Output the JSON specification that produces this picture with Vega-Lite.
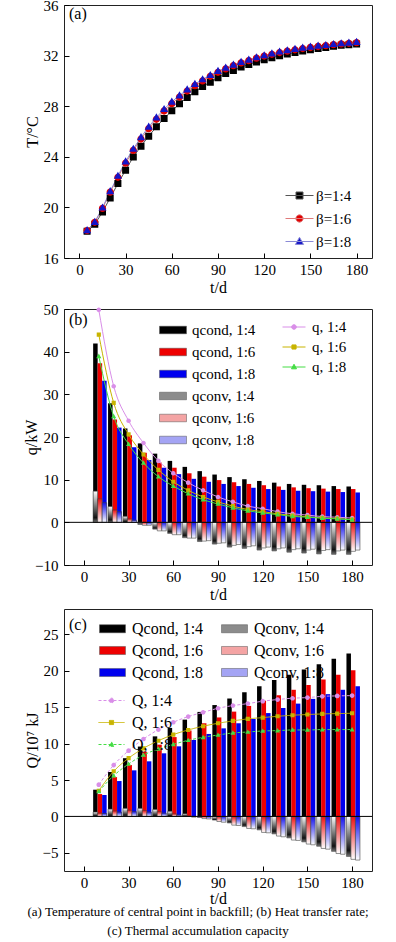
{
  "$schema": "https://vega.github.io/schema/vega-lite/v6.json",
  "background": "white",
  "padding": {"left": 23, "top": -3, "right": 0, "bottom": 0},
  "spacing": 5,
  "resolve": {
    "scale": {"color": "independent", "fill": "independent", "stroke": "independent", "shape": "independent", "strokeDash": "independent"}
  },
  "title": {
    "text": ["(a) Temperature of central point in backfill; (b) Heat transfer rate;", "(c) Thermal accumulation capacity"],
    "orient": "bottom", "anchor": "middle", "frame": "bounds", "offset": -1,
    "font": "Liberation Serif", "fontSize": 13, "fontWeight": "normal", "color": "black", "lineHeight": 19
  },
  "config": {
    "font": "Liberation Serif",
    "view": {"stroke": "#222222", "strokeWidth": 1},
    "axis": {
      "labelFont": "Liberation Serif", "labelFontSize": 15, "labelColor": "black",
      "titleFont": "Liberation Serif", "titleFontSize": 16, "titleFontWeight": "normal", "titleColor": "black",
      "tickSize": -5, "tickColor": "black", "tickWidth": 1, "domain": false, "grid": false
    },
    "axisX": {"labelPadding": 9, "titlePadding": 2},
    "axisY": {"labelPadding": 11},
    "legend": {"labelFont": "Liberation Serif", "labelColor": "black", "padding": 0, "titlePadding": 0, "symbolStrokeWidth": 1}
  },
  "datasets": {
    "T": [
      {"t":5,"r":"1:4","T":18.11},{"t":10,"r":"1:4","T":18.66},{"t":15,"r":"1:4","T":19.64},{"t":20,"r":"1:4","T":20.75},{"t":25,"r":"1:4","T":21.88},{"t":30,"r":"1:4","T":22.94},{"t":35,"r":"1:4","T":23.99},{"t":40,"r":"1:4","T":24.84},{"t":45,"r":"1:4","T":25.63},{"t":50,"r":"1:4","T":26.37},{"t":55,"r":"1:4","T":27.03},{"t":60,"r":"1:4","T":27.64},{"t":65,"r":"1:4","T":28.19},{"t":70,"r":"1:4","T":28.69},{"t":75,"r":"1:4","T":29.14},{"t":80,"r":"1:4","T":29.56},{"t":85,"r":"1:4","T":29.9},{"t":90,"r":"1:4","T":30.25},{"t":95,"r":"1:4","T":30.59},{"t":100,"r":"1:4","T":30.83},{"t":105,"r":"1:4","T":31.09},{"t":110,"r":"1:4","T":31.3},{"t":115,"r":"1:4","T":31.49},{"t":120,"r":"1:4","T":31.67},{"t":125,"r":"1:4","T":31.83},{"t":130,"r":"1:4","T":31.99},{"t":135,"r":"1:4","T":32.12},{"t":140,"r":"1:4","T":32.25},{"t":145,"r":"1:4","T":32.36},{"t":150,"r":"1:4","T":32.46},{"t":155,"r":"1:4","T":32.57},{"t":160,"r":"1:4","T":32.65},{"t":165,"r":"1:4","T":32.73},{"t":170,"r":"1:4","T":32.81},{"t":175,"r":"1:4","T":32.86},{"t":180,"r":"1:4","T":32.91},
      {"t":5,"r":"1:6","T":18.17},{"t":10,"r":"1:6","T":18.82},{"t":15,"r":"1:6","T":19.92},{"t":20,"r":"1:6","T":21.2},{"t":25,"r":"1:6","T":22.38},{"t":30,"r":"1:6","T":23.5},{"t":35,"r":"1:6","T":24.5},{"t":40,"r":"1:6","T":25.4},{"t":45,"r":"1:6","T":26.22},{"t":50,"r":"1:6","T":26.96},{"t":55,"r":"1:6","T":27.62},{"t":60,"r":"1:6","T":28.2},{"t":65,"r":"1:6","T":28.72},{"t":70,"r":"1:6","T":29.2},{"t":75,"r":"1:6","T":29.62},{"t":80,"r":"1:6","T":30.0},{"t":85,"r":"1:6","T":30.36},{"t":90,"r":"1:6","T":30.68},{"t":95,"r":"1:6","T":30.95},{"t":100,"r":"1:6","T":31.2},{"t":105,"r":"1:6","T":31.42},{"t":110,"r":"1:6","T":31.6},{"t":115,"r":"1:6","T":31.8},{"t":120,"r":"1:6","T":31.96},{"t":125,"r":"1:6","T":32.1},{"t":130,"r":"1:6","T":32.24},{"t":135,"r":"1:6","T":32.35},{"t":140,"r":"1:6","T":32.46},{"t":145,"r":"1:6","T":32.56},{"t":150,"r":"1:6","T":32.64},{"t":155,"r":"1:6","T":32.72},{"t":160,"r":"1:6","T":32.78},{"t":165,"r":"1:6","T":32.86},{"t":170,"r":"1:6","T":32.92},{"t":175,"r":"1:6","T":32.97},{"t":180,"r":"1:6","T":33.02},
      {"t":5,"r":"1:8","T":18.19},{"t":10,"r":"1:8","T":18.85},{"t":15,"r":"1:8","T":19.98},{"t":20,"r":"1:8","T":21.28},{"t":25,"r":"1:8","T":22.49},{"t":30,"r":"1:8","T":23.63},{"t":35,"r":"1:8","T":24.63},{"t":40,"r":"1:8","T":25.55},{"t":45,"r":"1:8","T":26.37},{"t":50,"r":"1:8","T":27.11},{"t":55,"r":"1:8","T":27.77},{"t":60,"r":"1:8","T":28.35},{"t":65,"r":"1:8","T":28.85},{"t":70,"r":"1:8","T":29.32},{"t":75,"r":"1:8","T":29.75},{"t":80,"r":"1:8","T":30.12},{"t":85,"r":"1:8","T":30.46},{"t":90,"r":"1:8","T":30.78},{"t":95,"r":"1:8","T":31.04},{"t":100,"r":"1:8","T":31.28},{"t":105,"r":"1:8","T":31.49},{"t":110,"r":"1:8","T":31.67},{"t":115,"r":"1:8","T":31.86},{"t":120,"r":"1:8","T":32.02},{"t":125,"r":"1:8","T":32.17},{"t":130,"r":"1:8","T":32.31},{"t":135,"r":"1:8","T":32.41},{"t":140,"r":"1:8","T":32.52},{"t":145,"r":"1:8","T":32.62},{"t":150,"r":"1:8","T":32.7},{"t":155,"r":"1:8","T":32.78},{"t":160,"r":"1:8","T":32.83},{"t":165,"r":"1:8","T":32.91},{"t":170,"r":"1:8","T":32.97},{"t":175,"r":"1:8","T":33.02},{"t":180,"r":"1:8","T":33.07}
    ],
    "B": [
      {"t":10,"r":"1:4","qcond":41.9,"qconv":7.3,"q":49.8},{"t":20,"r":"1:4","qcond":27.9,"qconv":3.7,"q":31.9},{"t":30,"r":"1:4","qcond":22.0,"qconv":1.4,"q":23.8},{"t":40,"r":"1:4","qcond":18.5,"qconv":-0.5,"q":18.6},{"t":50,"r":"1:4","qcond":16.1,"qconv":-1.6,"q":14.4},{"t":60,"r":"1:4","qcond":14.4,"qconv":-2.6,"q":11.5},{"t":70,"r":"1:4","qcond":13.0,"qconv":-3.6,"q":9.3},{"t":80,"r":"1:4","qcond":12.0,"qconv":-4.5,"q":7.5},{"t":90,"r":"1:4","qcond":11.2,"qconv":-5.1,"q":5.95},{"t":100,"r":"1:4","qcond":10.6,"qconv":-5.8,"q":4.8},{"t":110,"r":"1:4","qcond":10.1,"qconv":-6.1,"q":3.8},{"t":120,"r":"1:4","qcond":9.7,"qconv":-6.5,"q":3.2},{"t":130,"r":"1:4","qcond":9.3,"qconv":-6.7,"q":2.5},{"t":140,"r":"1:4","qcond":9.0,"qconv":-7.0,"q":2.0},{"t":150,"r":"1:4","qcond":8.8,"qconv":-7.2,"q":1.7},{"t":160,"r":"1:4","qcond":8.7,"qconv":-7.4,"q":1.35},{"t":170,"r":"1:4","qcond":8.5,"qconv":-7.5,"q":1.2},{"t":180,"r":"1:4","qcond":8.4,"qconv":-7.5,"q":1.0},
      {"t":10,"r":"1:6","qcond":37.3,"qconv":5.5,"q":44.0},{"t":20,"r":"1:6","qcond":24.1,"qconv":2.9,"q":28.0},{"t":30,"r":"1:6","qcond":20.4,"qconv":0.8,"q":20.6},{"t":40,"r":"1:6","qcond":16.3,"qconv":-0.7,"q":15.9},{"t":50,"r":"1:6","qcond":14.0,"qconv":-2.0,"q":12.3},{"t":60,"r":"1:6","qcond":12.8,"qconv":-2.9,"q":9.5},{"t":70,"r":"1:6","qcond":11.5,"qconv":-3.7,"q":7.5},{"t":80,"r":"1:6","qcond":10.7,"qconv":-4.4,"q":5.95},{"t":90,"r":"1:6","qcond":9.9,"qconv":-4.9,"q":4.8},{"t":100,"r":"1:6","qcond":9.4,"qconv":-5.4,"q":3.8},{"t":110,"r":"1:6","qcond":9.0,"qconv":-5.7,"q":3.0},{"t":120,"r":"1:6","qcond":8.7,"qconv":-6.0,"q":2.5},{"t":130,"r":"1:6","qcond":8.4,"qconv":-6.2,"q":2.0},{"t":140,"r":"1:6","qcond":8.2,"qconv":-6.4,"q":1.6},{"t":150,"r":"1:6","qcond":8.0,"qconv":-6.5,"q":1.3},{"t":160,"r":"1:6","qcond":7.9,"qconv":-6.6,"q":1.05},{"t":170,"r":"1:6","qcond":7.8,"qconv":-6.7,"q":0.9},{"t":180,"r":"1:6","qcond":7.8,"qconv":-6.8,"q":0.65},
      {"t":10,"r":"1:8","qcond":33.2,"qconv":4.6,"q":38.9},{"t":20,"r":"1:8","qcond":22.2,"qconv":2.5,"q":24.8},{"t":30,"r":"1:8","qcond":17.6,"qconv":0.5,"q":18.3},{"t":40,"r":"1:8","qcond":14.6,"qconv":-0.7,"q":13.9},{"t":50,"r":"1:8","qcond":12.8,"qconv":-2.0,"q":10.7},{"t":60,"r":"1:8","qcond":11.3,"qconv":-2.9,"q":8.5},{"t":70,"r":"1:8","qcond":10.2,"qconv":-3.7,"q":6.7},{"t":80,"r":"1:8","qcond":9.5,"qconv":-4.3,"q":5.3},{"t":90,"r":"1:8","qcond":9.0,"qconv":-4.8,"q":4.3},{"t":100,"r":"1:8","qcond":8.5,"qconv":-5.2,"q":3.4},{"t":110,"r":"1:8","qcond":8.1,"qconv":-5.5,"q":2.7},{"t":120,"r":"1:8","qcond":7.8,"qconv":-5.8,"q":2.2},{"t":130,"r":"1:8","qcond":7.6,"qconv":-6.0,"q":1.8},{"t":140,"r":"1:8","qcond":7.4,"qconv":-6.2,"q":1.4},{"t":150,"r":"1:8","qcond":7.3,"qconv":-6.3,"q":1.2},{"t":160,"r":"1:8","qcond":7.2,"qconv":-6.4,"q":0.95},{"t":170,"r":"1:8","qcond":7.1,"qconv":-6.5,"q":0.8},{"t":180,"r":"1:8","qcond":7.0,"qconv":-6.5,"q":0.6}
    ],
    "C": [
      {"t":10,"r":"1:4","Qc":3.67,"Qv":0.6,"Q":4.36},{"t":20,"r":"1:4","Qc":6.1,"Qv":1.0,"Q":7.06},{"t":30,"r":"1:4","Qc":8.0,"Qv":1.1,"Q":9.04},{"t":40,"r":"1:4","Qc":9.6,"Qv":1.1,"Q":10.64},{"t":50,"r":"1:4","Qc":11.0,"Qv":0.95,"Q":11.93},{"t":60,"r":"1:4","Qc":12.16,"Qv":0.7,"Q":12.94},{"t":70,"r":"1:4","Qc":13.3,"Qv":0.35,"Q":13.72},{"t":80,"r":"1:4","Qc":14.36,"Qv":-0.15,"Q":14.3},{"t":90,"r":"1:4","Qc":15.3,"Qv":-0.5,"Q":14.86},{"t":100,"r":"1:4","Qc":16.2,"Qv":-0.9,"Q":15.23},{"t":110,"r":"1:4","Qc":17.06,"Qv":-1.4,"Q":15.5},{"t":120,"r":"1:4","Qc":17.9,"Qv":-1.85,"Q":15.83},{"t":130,"r":"1:4","Qc":18.75,"Qv":-2.4,"Q":16.06},{"t":140,"r":"1:4","Qc":19.45,"Qv":-2.95,"Q":16.24},{"t":150,"r":"1:4","Qc":20.2,"Qv":-3.5,"Q":16.33},{"t":160,"r":"1:4","Qc":20.9,"Qv":-4.1,"Q":16.5},{"t":170,"r":"1:4","Qc":21.65,"Qv":-4.8,"Q":16.56},{"t":180,"r":"1:4","Qc":22.4,"Qv":-5.5,"Q":16.6},
      {"t":10,"r":"1:6","Qc":3.07,"Qv":0.45,"Q":3.53},{"t":20,"r":"1:6","Qc":5.4,"Qv":0.75,"Q":6.2},{"t":30,"r":"1:6","Qc":7.06,"Qv":0.85,"Q":8.0},{"t":40,"r":"1:6","Qc":8.9,"Qv":0.8,"Q":9.36},{"t":50,"r":"1:6","Qc":9.86,"Qv":0.65,"Q":10.4},{"t":60,"r":"1:6","Qc":10.9,"Qv":0.35,"Q":11.24},{"t":70,"r":"1:6","Qc":11.8,"Qv":0.05,"Q":11.88},{"t":80,"r":"1:6","Qc":12.8,"Qv":-0.3,"Q":12.39},{"t":90,"r":"1:6","Qc":13.6,"Qv":-0.7,"Q":12.8},{"t":100,"r":"1:6","Qc":14.4,"Qv":-1.2,"Q":13.12},{"t":110,"r":"1:6","Qc":15.18,"Qv":-1.65,"Q":13.4},{"t":120,"r":"1:6","Qc":15.9,"Qv":-2.2,"Q":13.58},{"t":130,"r":"1:6","Qc":16.65,"Qv":-2.7,"Q":13.76},{"t":140,"r":"1:6","Qc":17.4,"Qv":-3.25,"Q":13.9},{"t":150,"r":"1:6","Qc":18.07,"Qv":-3.8,"Q":14.0},{"t":160,"r":"1:6","Qc":18.8,"Qv":-4.4,"Q":14.08},{"t":170,"r":"1:6","Qc":19.45,"Qv":-5.1,"Q":14.13},{"t":180,"r":"1:6","Qc":20.1,"Qv":-5.9,"Q":14.17},
      {"t":10,"r":"1:8","Qc":2.94,"Qv":0.4,"Q":3.44},{"t":20,"r":"1:8","Qc":4.86,"Qv":0.6,"Q":5.6},{"t":30,"r":"1:8","Qc":6.33,"Qv":0.65,"Q":7.2},{"t":40,"r":"1:8","Qc":7.57,"Qv":0.6,"Q":8.44},{"t":50,"r":"1:8","Qc":8.67,"Qv":0.45,"Q":9.27},{"t":60,"r":"1:8","Qc":9.63,"Qv":0.2,"Q":9.9},{"t":70,"r":"1:8","Qc":10.5,"Qv":-0.1,"Q":10.46},{"t":80,"r":"1:8","Qc":11.33,"Qv":-0.35,"Q":10.87},{"t":90,"r":"1:8","Qc":12.1,"Qv":-0.8,"Q":11.19},{"t":100,"r":"1:8","Qc":12.8,"Qv":-1.25,"Q":11.47},{"t":110,"r":"1:8","Qc":13.4,"Qv":-1.7,"Q":11.6},{"t":120,"r":"1:8","Qc":14.2,"Qv":-2.25,"Q":11.74},{"t":130,"r":"1:8","Qc":14.9,"Qv":-2.8,"Q":11.79},{"t":140,"r":"1:8","Qc":15.5,"Qv":-3.3,"Q":11.88},{"t":150,"r":"1:8","Qc":16.15,"Qv":-3.9,"Q":11.88},{"t":160,"r":"1:8","Qc":16.8,"Qv":-4.5,"Q":11.93},{"t":170,"r":"1:8","Qc":17.4,"Qv":-5.2,"Q":11.93},{"t":180,"r":"1:8","Qc":17.9,"Qv":-6.0,"Q":11.93}
    ]
  },
  "vconcat": [
    {
      "width": 308, "height": 253,
      "title": {"text": "(a)", "anchor": "start", "frame": "group", "orient": "top", "offset": -24, "dx": 5, "font": "Liberation Serif", "fontSize": 16, "fontWeight": "normal", "color": "black"},
      "data": {"name": "T"},
      "layer": [
        {
          "mark": {"type": "line", "strokeWidth": 1},
          "encoding": {
            "x": {"field": "t", "type": "quantitative", "scale": {"domain": [-10, 190], "nice": false, "zero": false}, "axis": {"values": [0,30,60,90,120,150,180], "title": "t/d"}},
            "y": {"field": "T", "type": "quantitative", "scale": {"domain": [16, 36], "nice": false, "zero": false}, "axis": {"values": [16,20,24,28,32,36], "title": "T/°C", "titlePadding": 3}},
            "stroke": {"field": "r", "type": "nominal", "scale": {"domain": ["1:4","1:6","1:8"], "range": ["#555555","#e07a7a","#8a8ad6"]},
              "legend": {"orient": "none", "legendX": 221, "legendY": 176, "title": null, "labelExpr": "'β=' + datum.label", "labelFontSize": 15, "symbolSize": 784, "labelOffset": 2, "rowPadding": 0, "symbolStrokeWidth": 1}}
          }
        },
        {
          "mark": {"type": "point", "filled": true, "opacity": 1, "size": 784},
          "encoding": {
            "x": {"field": "t", "type": "quantitative", "scale": {"domain": [-10, 190], "nice": false, "zero": false}},
            "y": {"field": "T", "type": "quantitative", "scale": {"domain": [16, 36], "nice": false, "zero": false}},
            "strokeOpacity": {"value": 0},
            "fill": {"field": "r", "type": "nominal", "scale": {"domain": ["1:4","1:6","1:8"], "range": ["#000000","#e00000","#1515c8"]},
              "legend": {"orient": "none", "legendX": 221, "legendY": 176, "title": null, "labelExpr": "'β=' + datum.label", "labelFontSize": 15, "symbolSize": 784, "labelOffset": 2, "rowPadding": 0, "symbolStrokeWidth": 1}},
            "stroke": {"field": "r", "type": "nominal", "scale": {"domain": ["1:4","1:6","1:8"], "range": ["#555555","#e07a7a","#8a8ad6"]},
              "legend": {"orient": "none", "legendX": 221, "legendY": 176, "title": null, "labelExpr": "'β=' + datum.label", "labelFontSize": 15, "symbolSize": 784, "labelOffset": 2, "rowPadding": 0, "symbolStrokeWidth": 1}},
            "shape": {"field": "r", "type": "nominal", "scale": {"domain": ["1:4","1:6","1:8"], "range": ["M-1,0H1M-0.25,-0.25H0.25V0.25H-0.25Z","M-1,0H1M0.26,0A0.26,0.26,0,1,1,-0.26,0A0.26,0.26,0,1,1,0.26,0Z","M-1,0H1M0,-0.3L0.29,0.21H-0.29Z"]},
              "legend": {"orient": "none", "legendX": 221, "legendY": 176, "title": null, "labelExpr": "'β=' + datum.label", "labelFontSize": 15, "symbolSize": 784, "labelOffset": 2, "rowPadding": 0, "symbolStrokeWidth": 1}}
          }
        }
      ]
    },
    {
      "width": 308, "height": 256,
      "title": {"text": "(b)", "anchor": "start", "frame": "group", "orient": "top", "offset": -26, "dx": 5, "font": "Liberation Serif", "fontSize": 16, "fontWeight": "normal", "color": "black"},
      "data": {"name": "B"},
      "layer": [
        {
          "transform": [{"filter": "datum.r === '1:4'"}],
          "mark": {"type": "bar", "width": 4.5, "xOffset": -3.4},
          "encoding": {
            "x": {"field": "t", "type": "quantitative", "scale": {"domain": [-10, 190], "nice": false, "zero": false}, "axis": {"values": [0,30,60,90,120,150,180], "title": "t/d"}},
            "y": {"field": "qcond", "type": "quantitative", "scale": {"domain": [-10, 50], "nice": false}, "axis": {"values": [-10,0,10,20,30,40,50], "title": "q/kW", "titlePadding": -5}},
            "color": {"datum": "qcond, 1:4", "type": "nominal",
              "scale": {"domain": ["qcond, 1:4","qcond, 1:6","qcond, 1:8","qconv, 1:4","qconv, 1:6","qconv, 1:8"],
                "range": ["#000000","#ee0000","#0000ee","#8c8c8c","#f4a4a4","#a4a4f4"]},
              "legend": {"orient": "none", "legendX": 95, "legendY": 7, "title": null, "labelFontSize": 15, "symbolSize": 729, "symbolType": "M-1,-0.28H1V0.28H-1Z", "labelOffset": 5, "rowPadding": 0, "symbolStrokeColor": "#555555", "symbolStrokeWidth": 0.5}
            }
          }
        },
        {
          "transform": [{"filter": "datum.r === '1:6'"}],
          "mark": {"type": "bar", "width": 4.5, "xOffset": 1.1},
          "encoding": {
            "x": {"field": "t", "type": "quantitative", "scale": {"domain": [-10, 190], "nice": false, "zero": false}},
            "y": {"field": "qcond", "type": "quantitative", "scale": {"domain": [-10, 50], "nice": false}},
            "color": {"datum": "qcond, 1:6", "type": "nominal"}
          }
        },
        {
          "transform": [{"filter": "datum.r === '1:8'"}],
          "mark": {"type": "bar", "width": 4.5, "xOffset": 5.6},
          "encoding": {
            "x": {"field": "t", "type": "quantitative", "scale": {"domain": [-10, 190], "nice": false, "zero": false}},
            "y": {"field": "qcond", "type": "quantitative", "scale": {"domain": [-10, 50], "nice": false}},
            "color": {"datum": "qcond, 1:8", "type": "nominal"}
          }
        },
        {
          "transform": [{"filter": "datum.r === '1:4'"}],
          "mark": {"type": "bar", "width": 4.5, "xOffset": -3.4, "stroke": "#444444", "strokeWidth": 0.6,
            "fill": {"gradient": "linear", "x1": 0, "y1": 0, "x2": 0, "y2": 1, "stops": [{"offset": 0, "color": "#ffffff"}, {"offset": 0.85, "color": "#111111"}, {"offset": 1, "color": "#777777"}]}},
          "encoding": {
            "x": {"field": "t", "type": "quantitative", "scale": {"domain": [-10, 190], "nice": false, "zero": false}},
            "y": {"field": "qconv", "type": "quantitative", "scale": {"domain": [-10, 50], "nice": false}}
          }
        },
        {
          "transform": [{"filter": "datum.r === '1:6'"}],
          "mark": {"type": "bar", "width": 4.5, "xOffset": 1.1, "stroke": "#444444", "strokeWidth": 0.6,
            "fill": {"gradient": "linear", "x1": 0, "y1": 0, "x2": 0, "y2": 1, "stops": [{"offset": 0, "color": "#ee1111"}, {"offset": 1, "color": "#ffffff"}]}},
          "encoding": {
            "x": {"field": "t", "type": "quantitative", "scale": {"domain": [-10, 190], "nice": false, "zero": false}},
            "y": {"field": "qconv", "type": "quantitative", "scale": {"domain": [-10, 50], "nice": false}}
          }
        },
        {
          "transform": [{"filter": "datum.r === '1:8'"}],
          "mark": {"type": "bar", "width": 4.5, "xOffset": 5.6, "stroke": "#444444", "strokeWidth": 0.6,
            "fill": {"gradient": "linear", "x1": 0, "y1": 0, "x2": 0, "y2": 1, "stops": [{"offset": 0, "color": "#1111ee"}, {"offset": 1, "color": "#ffffff"}]}},
          "encoding": {
            "x": {"field": "t", "type": "quantitative", "scale": {"domain": [-10, 190], "nice": false, "zero": false}},
            "y": {"field": "qconv", "type": "quantitative", "scale": {"domain": [-10, 50], "nice": false}}
          }
        },
        {
          "data": {"values": [{}]},
          "mark": {"type": "rule", "color": "black", "strokeWidth": 1},
          "encoding": {"y": {"datum": 0, "type": "quantitative", "scale": {"domain": [-10, 50], "nice": false}}}
        },
        {
          "mark": {"type": "line", "strokeWidth": 1, "interpolate": "monotone"},
          "encoding": {
            "x": {"field": "t", "type": "quantitative", "scale": {"domain": [-10, 190], "nice": false, "zero": false}},
            "y": {"field": "q", "type": "quantitative", "scale": {"domain": [-10, 50], "nice": false}},
            "stroke": {"field": "r", "type": "nominal", "scale": {"domain": ["1:4","1:6","1:8"], "range": ["#d98ee8","#c8b400","#44dd44"]},
              "legend": {"orient": "none", "legendX": 218, "legendY": 6, "title": null, "labelExpr": "'q, ' + datum.label", "labelFontSize": 15, "symbolSize": 529, "labelOffset": 6, "rowPadding": 0, "symbolStrokeWidth": 1}}
          }
        },
        {
          "mark": {"type": "point", "filled": true, "opacity": 1, "size": 529},
          "encoding": {
            "x": {"field": "t", "type": "quantitative", "scale": {"domain": [-10, 190], "nice": false, "zero": false}},
            "y": {"field": "q", "type": "quantitative", "scale": {"domain": [-10, 50], "nice": false}},
            "strokeOpacity": {"value": 0},
            "fill": {"field": "r", "type": "nominal", "scale": {"domain": ["1:4","1:6","1:8"], "range": ["#d98ee8","#c8b400","#44dd44"]},
              "legend": {"orient": "none", "legendX": 218, "legendY": 6, "title": null, "labelExpr": "'q, ' + datum.label", "labelFontSize": 15, "symbolSize": 529, "labelOffset": 6, "rowPadding": 0, "symbolStrokeWidth": 1}},
            "stroke": {"field": "r", "type": "nominal", "scale": {"domain": ["1:4","1:6","1:8"], "range": ["#d98ee8","#c8b400","#44dd44"]},
              "legend": {"orient": "none", "legendX": 218, "legendY": 6, "title": null, "labelExpr": "'q, ' + datum.label", "labelFontSize": 15, "symbolSize": 529, "labelOffset": 6, "rowPadding": 0, "symbolStrokeWidth": 1}},
            "shape": {"field": "r", "type": "nominal", "scale": {"domain": ["1:4","1:6","1:8"], "range": ["M-1,0H1M0.2,0A0.2,0.2,0,1,1,-0.2,0A0.2,0.2,0,1,1,0.2,0Z","M-1,0H1M-0.18,-0.18H0.18V0.18H-0.18Z","M-1,0H1M0,-0.24L0.22,0.16H-0.22Z"]},
              "legend": {"orient": "none", "legendX": 218, "legendY": 6, "title": null, "labelExpr": "'q, ' + datum.label", "labelFontSize": 15, "symbolSize": 529, "labelOffset": 6, "rowPadding": 0, "symbolStrokeWidth": 1}}
          }
        }
      ]
    },
    {
      "width": 308, "height": 262,
      "title": {"text": "(c)", "anchor": "start", "frame": "group", "orient": "top", "offset": -24, "dx": 5, "font": "Liberation Serif", "fontSize": 16, "fontWeight": "normal", "color": "black"},
      "data": {"name": "C"},
      "layer": [
        {
          "transform": [{"filter": "datum.r === '1:4'"}],
          "mark": {"type": "bar", "width": 4.5, "xOffset": -3.4},
          "encoding": {
            "x": {"field": "t", "type": "quantitative", "scale": {"domain": [-10, 190], "nice": false, "zero": false}, "axis": {"values": [0,30,60,90,120,150,180], "title": "t/d", "titlePadding": 0}},
            "y": {"field": "Qc", "type": "quantitative", "scale": {"domain": [-7.5, 28.5], "nice": false}, "axis": {"values": [-5,0,5,10,15,20,25], "title": "Q/10⁷ kJ", "titlePadding": 2}},
            "color": {"datum": "Qcond, 1:4", "type": "nominal",
              "scale": {"domain": ["Qcond, 1:4","Qcond, 1:6","Qcond, 1:8","Qconv, 1:4","Qconv, 1:6","Qconv, 1:8"],
                "range": ["#000000","#ee0000","#0000ee","#8c8c8c","#f4a4a4","#a4a4f4"]},
              "legend": {"orient": "none", "legendX": 35, "legendY": 6, "title": null, "columns": 2, "columnPadding": 16, "labelFontSize": 16, "symbolSize": 676, "symbolType": "M-1,-0.31H1V0.31H-1Z", "labelOffset": 6, "rowPadding": 0, "symbolStrokeColor": "#555555", "symbolStrokeWidth": 0.5}
            }
          }
        },
        {
          "transform": [{"filter": "datum.r === '1:6'"}],
          "mark": {"type": "bar", "width": 4.5, "xOffset": 1.1},
          "encoding": {
            "x": {"field": "t", "type": "quantitative", "scale": {"domain": [-10, 190], "nice": false, "zero": false}},
            "y": {"field": "Qc", "type": "quantitative", "scale": {"domain": [-7.5, 28.5], "nice": false}},
            "color": {"datum": "Qcond, 1:6", "type": "nominal"}
          }
        },
        {
          "transform": [{"filter": "datum.r === '1:8'"}],
          "mark": {"type": "bar", "width": 4.5, "xOffset": 5.6},
          "encoding": {
            "x": {"field": "t", "type": "quantitative", "scale": {"domain": [-10, 190], "nice": false, "zero": false}},
            "y": {"field": "Qc", "type": "quantitative", "scale": {"domain": [-7.5, 28.5], "nice": false}},
            "color": {"datum": "Qcond, 1:8", "type": "nominal"}
          }
        },
        {
          "transform": [{"filter": "datum.r === '1:4'"}],
          "mark": {"type": "bar", "width": 4.5, "xOffset": -3.4, "stroke": "#444444", "strokeWidth": 0.6,
            "fill": {"gradient": "linear", "x1": 0, "y1": 0, "x2": 0, "y2": 1, "stops": [{"offset": 0, "color": "#ffffff"}, {"offset": 0.85, "color": "#111111"}, {"offset": 1, "color": "#777777"}]}},
          "encoding": {
            "x": {"field": "t", "type": "quantitative", "scale": {"domain": [-10, 190], "nice": false, "zero": false}},
            "y": {"field": "Qv", "type": "quantitative", "scale": {"domain": [-7.5, 28.5], "nice": false}}
          }
        },
        {
          "transform": [{"filter": "datum.r === '1:6'"}],
          "mark": {"type": "bar", "width": 4.5, "xOffset": 1.1, "stroke": "#444444", "strokeWidth": 0.6,
            "fill": {"gradient": "linear", "x1": 0, "y1": 0, "x2": 0, "y2": 1, "stops": [{"offset": 0, "color": "#ee1111"}, {"offset": 1, "color": "#ffffff"}]}},
          "encoding": {
            "x": {"field": "t", "type": "quantitative", "scale": {"domain": [-10, 190], "nice": false, "zero": false}},
            "y": {"field": "Qv", "type": "quantitative", "scale": {"domain": [-7.5, 28.5], "nice": false}}
          }
        },
        {
          "transform": [{"filter": "datum.r === '1:8'"}],
          "mark": {"type": "bar", "width": 4.5, "xOffset": 5.6, "stroke": "#444444", "strokeWidth": 0.6,
            "fill": {"gradient": "linear", "x1": 0, "y1": 0, "x2": 0, "y2": 1, "stops": [{"offset": 0, "color": "#1111ee"}, {"offset": 1, "color": "#ffffff"}]}},
          "encoding": {
            "x": {"field": "t", "type": "quantitative", "scale": {"domain": [-10, 190], "nice": false, "zero": false}},
            "y": {"field": "Qv", "type": "quantitative", "scale": {"domain": [-7.5, 28.5], "nice": false}}
          }
        },
        {
          "data": {"values": [{}]},
          "mark": {"type": "rule", "color": "black", "strokeWidth": 1},
          "encoding": {"y": {"datum": 0, "type": "quantitative", "scale": {"domain": [-7.5, 28.5], "nice": false}}}
        },
        {
          "mark": {"type": "line", "strokeWidth": 1, "interpolate": "monotone"},
          "encoding": {
            "x": {"field": "t", "type": "quantitative", "scale": {"domain": [-10, 190], "nice": false, "zero": false}},
            "y": {"field": "Q", "type": "quantitative", "scale": {"domain": [-7.5, 28.5], "nice": false}},
            "strokeDash": {"field": "r", "type": "nominal", "scale": {"domain": ["1:4","1:6","1:8"], "range": [[3,2],[1,0],[3,2]]},
              "legend": {"orient": "none", "legendX": 34, "legendY": 78, "title": null, "labelExpr": "'Q, ' + datum.label", "labelFontSize": 16, "symbolSize": 676, "labelOffset": 7, "rowPadding": 0, "symbolStrokeWidth": 1}},
            "stroke": {"field": "r", "type": "nominal", "scale": {"domain": ["1:4","1:6","1:8"], "range": ["#d98ee8","#c8b400","#44dd44"]},
              "legend": {"orient": "none", "legendX": 34, "legendY": 78, "title": null, "labelExpr": "'Q, ' + datum.label", "labelFontSize": 16, "symbolSize": 676, "labelOffset": 7, "rowPadding": 0, "symbolStrokeWidth": 1}}
          }
        },
        {
          "mark": {"type": "point", "filled": true, "opacity": 1, "size": 676},
          "encoding": {
            "x": {"field": "t", "type": "quantitative", "scale": {"domain": [-10, 190], "nice": false, "zero": false}},
            "y": {"field": "Q", "type": "quantitative", "scale": {"domain": [-7.5, 28.5], "nice": false}},
            "strokeOpacity": {"value": 0},
            "fill": {"field": "r", "type": "nominal", "scale": {"domain": ["1:4","1:6","1:8"], "range": ["#d98ee8","#c8b400","#44dd44"]},
              "legend": {"orient": "none", "legendX": 34, "legendY": 78, "title": null, "labelExpr": "'Q, ' + datum.label", "labelFontSize": 16, "symbolSize": 676, "labelOffset": 7, "rowPadding": 0, "symbolStrokeWidth": 1}},
            "stroke": {"field": "r", "type": "nominal", "scale": {"domain": ["1:4","1:6","1:8"], "range": ["#d98ee8","#c8b400","#44dd44"]},
              "legend": {"orient": "none", "legendX": 34, "legendY": 78, "title": null, "labelExpr": "'Q, ' + datum.label", "labelFontSize": 16, "symbolSize": 676, "labelOffset": 7, "rowPadding": 0, "symbolStrokeWidth": 1}},
            "shape": {"field": "r", "type": "nominal", "scale": {"domain": ["1:4","1:6","1:8"], "range": ["M-1,0H1M0.18,0A0.18,0.18,0,1,1,-0.18,0A0.18,0.18,0,1,1,0.18,0Z","M-1,0H1M-0.16,-0.16H0.16V0.16H-0.16Z","M-1,0H1M0,-0.2L0.19,0.14H-0.19Z"]},
              "legend": {"orient": "none", "legendX": 34, "legendY": 78, "title": null, "labelExpr": "'Q, ' + datum.label", "labelFontSize": 16, "symbolSize": 676, "labelOffset": 7, "rowPadding": 0, "symbolStrokeWidth": 1}}
          }
        }
      ]
    }
  ]
}
